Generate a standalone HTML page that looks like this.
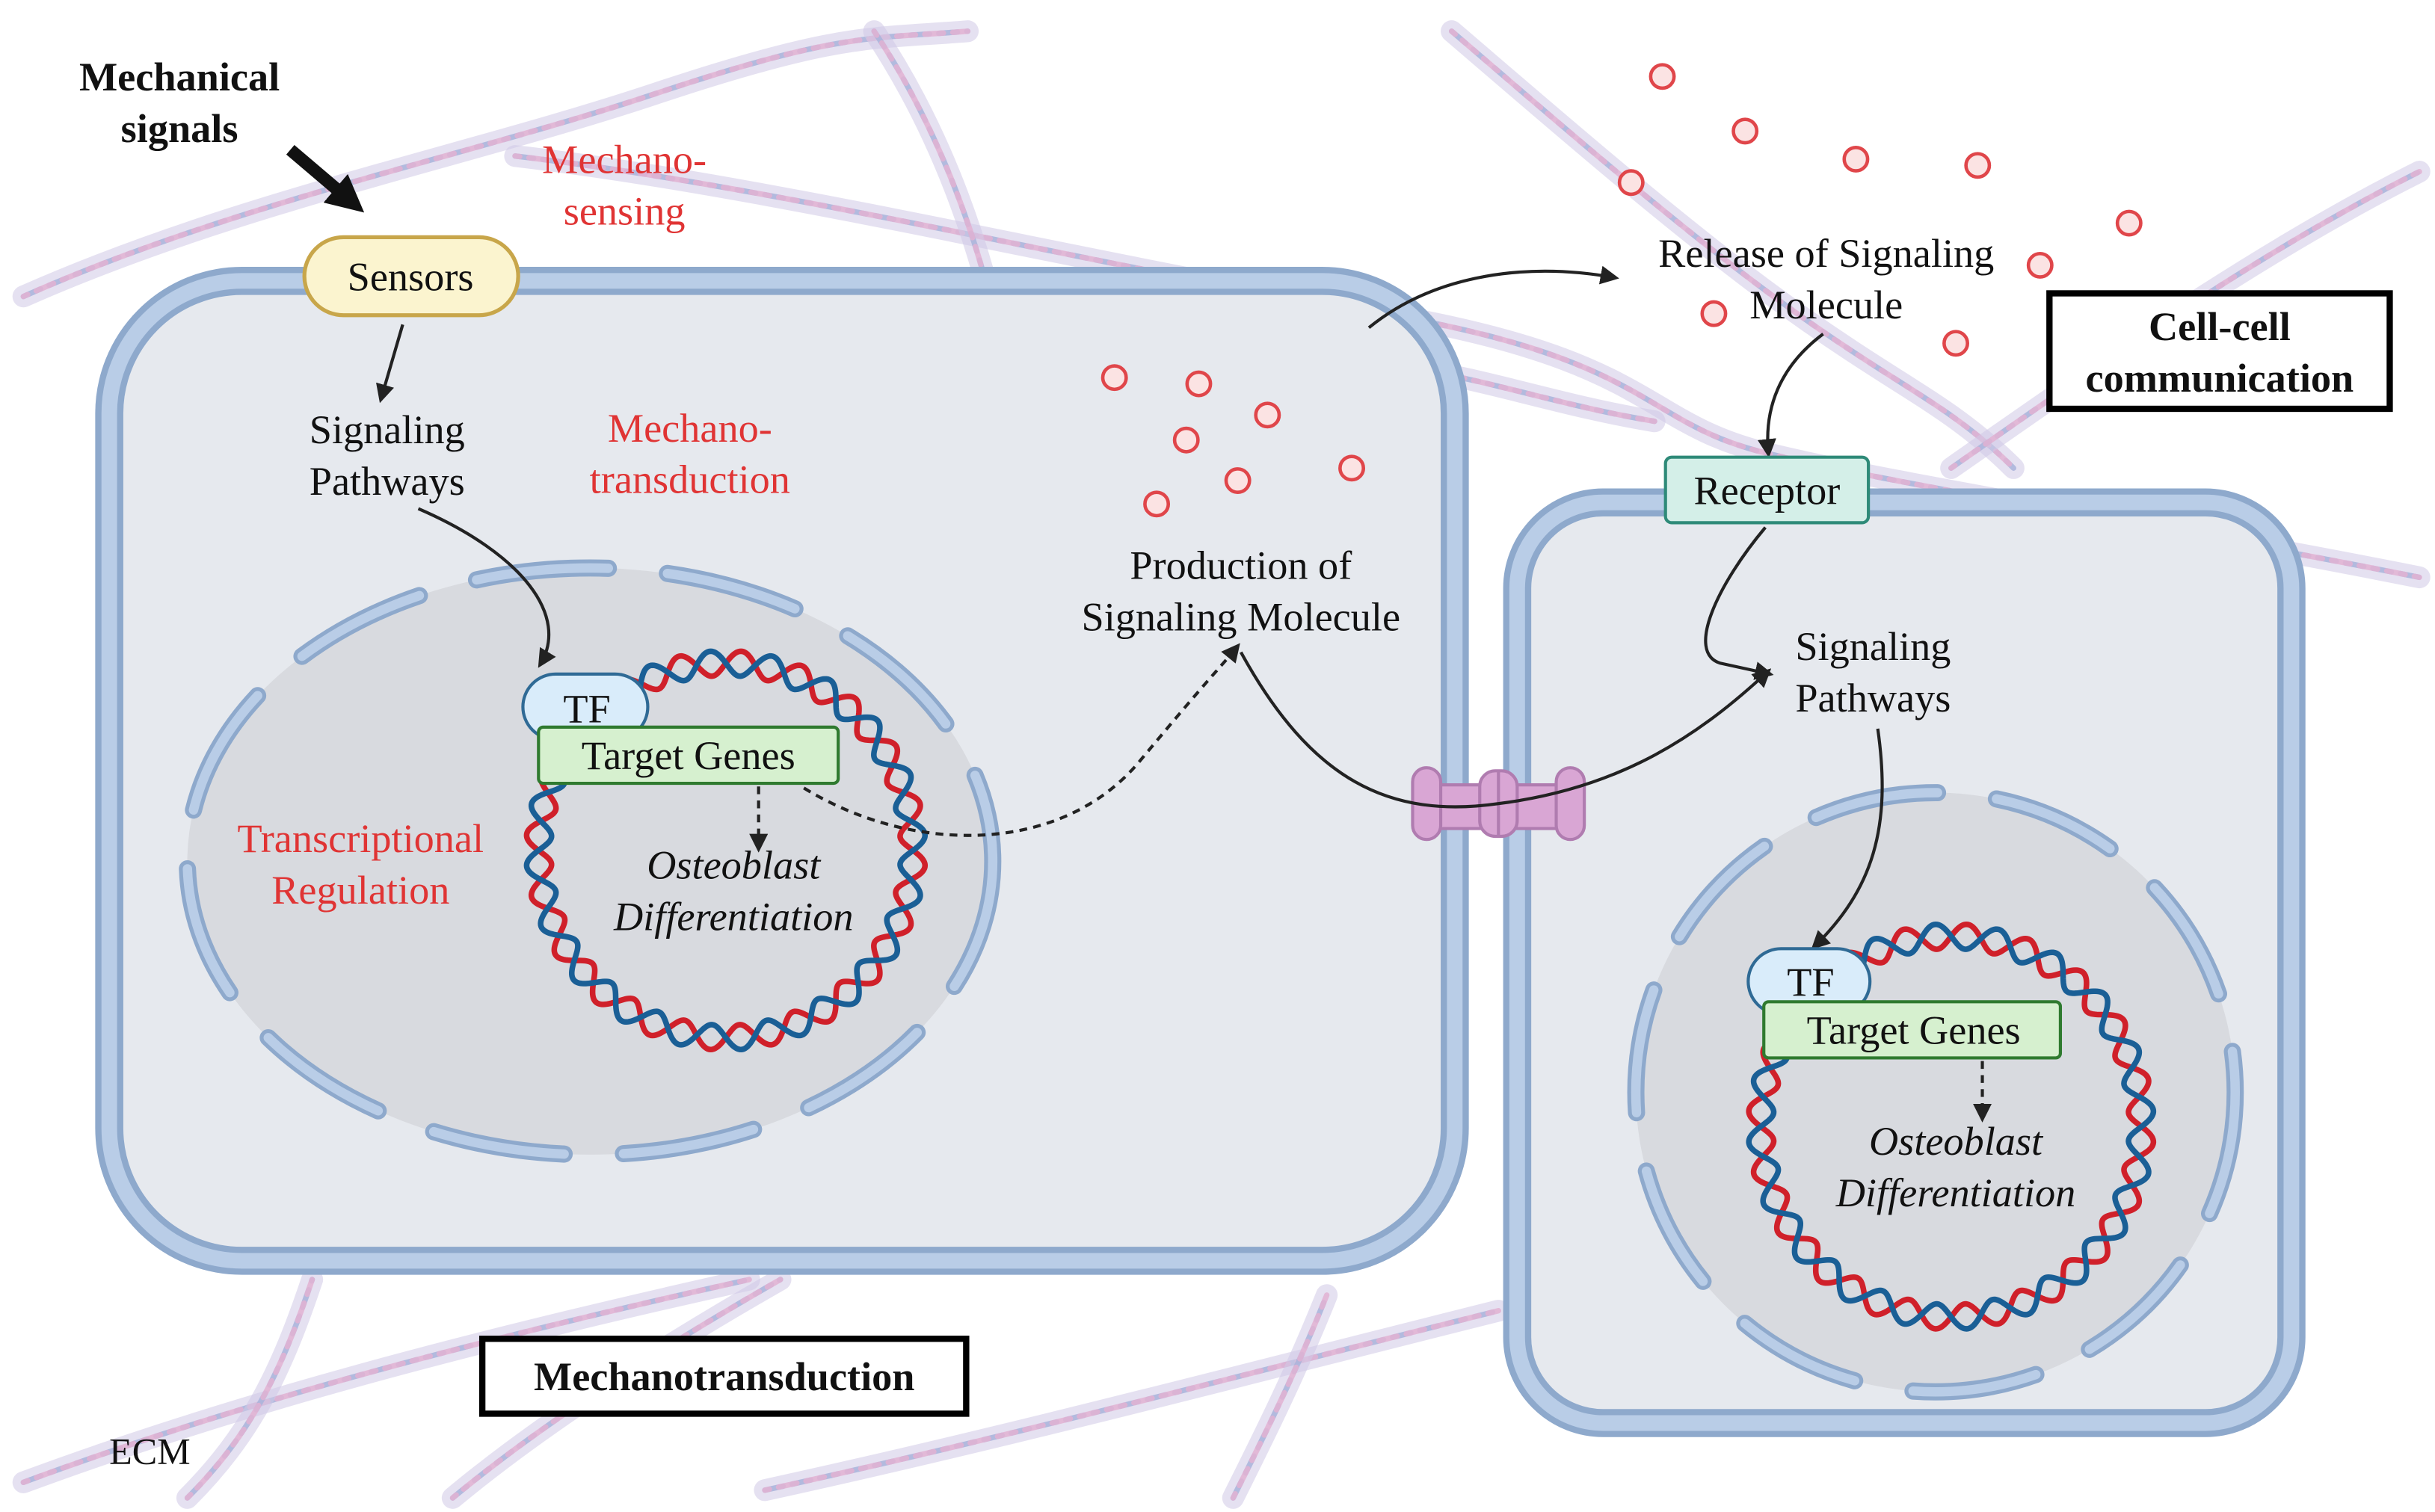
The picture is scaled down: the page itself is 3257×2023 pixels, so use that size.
<!DOCTYPE html>
<html><head><meta charset="utf-8"><style>
html,body{margin:0;padding:0;background:#fff;}
svg{display:block;}
text{font-family:"Liberation Serif",serif;}
</style></head><body>
<svg id="s" width="3257" height="2023" viewBox="0 0 1560 969" preserveAspectRatio="none" xmlns="http://www.w3.org/2000/svg">
<defs>
<marker id="ah" viewBox="0 0 10 10" refX="8" refY="5" markerWidth="6" markerHeight="6" orient="auto"><path d="M0,0 L10,5 L0,10 z" fill="#222"/></marker>
<marker id="ahb" viewBox="0 0 10 10" refX="6" refY="5" markerWidth="3" markerHeight="3" orient="auto"><path d="M0,0 L10,5 L0,10 z" fill="#111"/></marker>
</defs>
<rect width="1560" height="969" fill="#fff"/>
<g id="fibers" fill="none" stroke-linecap="round"></g>

<!-- Cell 1 -->
<rect x="70" y="180" width="862" height="628" rx="85" fill="#e6e9ee" stroke="#8ea9cc" stroke-width="18"/>
<rect x="70" y="180" width="862" height="628" rx="85" fill="none" stroke="#b9cde7" stroke-width="10"/>
<!-- Cell 2 -->
<rect x="972" y="322" width="496" height="590" rx="55" fill="#e6e9ee" stroke="#8ea9cc" stroke-width="18"/>
<rect x="972" y="322" width="496" height="590" rx="55" fill="none" stroke="#b9cde7" stroke-width="10"/>

<!-- Nuclei -->
<ellipse cx="378" cy="552" rx="258" ry="188" fill="#d8dadf"/>
<ellipse cx="378" cy="552" rx="258" ry="188" fill="none" stroke="#8ea9cc" stroke-width="11" stroke-dasharray="85 38" stroke-linecap="round"/>
<ellipse cx="378" cy="552" rx="258" ry="188" fill="none" stroke="#b9cde7" stroke-width="6" stroke-dasharray="85 38" stroke-linecap="round"/>
<ellipse cx="1240" cy="700" rx="192" ry="192" fill="#d8dadf"/>
<ellipse cx="1240" cy="700" rx="192" ry="192" fill="none" stroke="#8ea9cc" stroke-width="11" stroke-dasharray="80 38" stroke-linecap="round"/>
<ellipse cx="1240" cy="700" rx="192" ry="192" fill="none" stroke="#b9cde7" stroke-width="6" stroke-dasharray="80 38" stroke-linecap="round"/>

<g id="dna"></g>

<!-- gap junction -->
<g fill="#d9a6d4" stroke="#b07cb0" stroke-width="2">
<rect x="910" y="503" width="100" height="28" rx="5"/>
<rect x="905" y="492" width="18" height="46" rx="9"/>
<rect x="997" y="492" width="18" height="46" rx="9"/>
<rect x="948" y="494" width="24" height="42" rx="10"/>
</g>
<line x1="960" y1="494" x2="960" y2="536" stroke="#b07cb0" stroke-width="2"/>

<!-- molecules -->
<g id="mol" fill="#fbe3e3" stroke="#e0464a" stroke-width="2.2"></g>

<!-- arrows -->
<g fill="none" stroke="#222" stroke-width="2">
<path d="M258,208 L244,256" marker-end="url(#ah)"/>
<path d="M268,326 C335,355 365,395 346,426" marker-end="url(#ah)"/>
<path d="M486,504 L486,544" stroke-dasharray="5 4" marker-end="url(#ah)"/>
<path d="M515,505 C585,548 680,548 730,488 S780,430 793,414" stroke-dasharray="5 4" marker-end="url(#ah)"/>
<path d="M795,418 C840,500 890,525 960,515 C1040,505 1090,470 1133,430" marker-end="url(#ah)"/>
<path d="M877,210 C920,175 980,168 1035,178" marker-end="url(#ah)"/>
<path d="M1168,214 C1140,235 1130,262 1133,291" marker-end="url(#ah)"/>
<path d="M1131,338 C1100,375 1080,418 1102,425 L1134,432" marker-end="url(#ah)"/>
<path d="M1203,467 C1212,530 1200,570 1162,607" marker-end="url(#ah)"/>
<path d="M1270,680 L1270,717" stroke-dasharray="5 4" marker-end="url(#ah)"/>
</g>
<path d="M186,96 L226,130" stroke="#111" stroke-width="8" marker-end="url(#ahb)"/>

<!-- boxes -->
<rect x="195" y="152" width="137" height="50" rx="25" fill="#fbf4cf" stroke="#c8a64a" stroke-width="2.5"/>
<rect x="335" y="432" width="80" height="42" rx="21" fill="#d9ecfa" stroke="#2f6a95" stroke-width="2"/>
<rect x="345" y="466" width="192" height="36" rx="3" fill="#d6f0cf" stroke="#2f7a2f" stroke-width="2"/>
<rect x="1120" y="608" width="78" height="42" rx="21" fill="#d9ecfa" stroke="#2f6a95" stroke-width="2"/>
<rect x="1130" y="642" width="190" height="36" rx="3" fill="#d6f0cf" stroke="#2f7a2f" stroke-width="2"/>
<rect x="1067" y="293" width="130" height="42" rx="4" fill="#d4efe8" stroke="#2e8a78" stroke-width="2"/>
<rect x="1313" y="188" width="218" height="74" fill="#fff" stroke="#000" stroke-width="4"/>
<rect x="309" y="858" width="310" height="48" fill="#fff" stroke="#000" stroke-width="4"/>

<!-- text -->
<g font-size="26" text-anchor="middle" fill="#111">
<text x="115" y="58" font-weight="bold">Mechanical</text>
<text x="115" y="91" font-weight="bold">signals</text>
<text x="263" y="186">Sensors</text>
<text x="248" y="284">Signaling</text>
<text x="248" y="317">Pathways</text>
<text x="376" y="463">TF</text>
<text x="441" y="493">Target Genes</text>
<text x="470" y="563" font-style="italic">Osteoblast</text>
<text x="470" y="596" font-style="italic">Differentiation</text>
<text x="795" y="371">Production of</text>
<text x="795" y="404">Signaling Molecule</text>
<text x="1170" y="171">Release of Signaling</text>
<text x="1170" y="204">Molecule</text>
<text x="1422" y="218" font-weight="bold">Cell-cell</text>
<text x="1422" y="251" font-weight="bold">communication</text>
<text x="1132" y="323">Receptor</text>
<text x="1200" y="423">Signaling</text>
<text x="1200" y="456">Pathways</text>
<text x="1160" y="638">TF</text>
<text x="1226" y="669">Target Genes</text>
<text x="1253" y="740" font-style="italic">Osteoblast</text>
<text x="1253" y="773" font-style="italic">Differentiation</text>
<text x="464" y="891" font-weight="bold">Mechanotransduction</text>
<text x="96" y="938" font-size="24">ECM</text>
</g>
<g font-size="26" text-anchor="middle" fill="#e03434">
<text x="400" y="111">Mechano-</text>
<text x="400" y="144">sensing</text>
<text x="442" y="283">Mechano-</text>
<text x="442" y="316">transduction</text>
<text x="231" y="546">Transcriptional</text>
<text x="231" y="579">Regulation</text>
</g>
<script>
(function(){
var NS="http://www.w3.org/2000/svg";
function mk(p,tag,at){var e=document.createElementNS(NS,tag);for(var k in at)e.setAttribute(k,at[k]);p.appendChild(e);return e;}
var dna=document.getElementById('dna');
function ring(cx,cy,R,n){
 [["#d0202a",1],["#1a5f96",-1]].forEach(function(c){
  var d="";for(var i=0;i<=900;i++){var t=i/900*2*Math.PI;var r=R+c[1]*8*Math.sin(n*t);d+=(i?"L":"M")+(cx+r*Math.cos(t)).toFixed(2)+","+(cy+r*Math.sin(t)).toFixed(2);}
  mk(dna,'path',{d:d,fill:"none",stroke:c[0],"stroke-width":3.6});
 });
}
ring(465,545,120,20);ring(1250,722,122,20);
var mol=document.getElementById('mol');
[[714,242],[768,246],[812,266],[760,282],[793,308],[741,323],[866,300],[1065,49],[1118,84],[1189,102],[1267,106],[1045,117],[1364,143],[1307,170],[1098,201],[1253,220]].forEach(function(p){mk(mol,'circle',{cx:p[0],cy:p[1],r:7.5});});
var fb=document.getElementById('fibers');
var lines=[
 "M15,190 C150,130 300,100 420,60 S560,25 620,20",
 "M330,100 C500,120 700,170 880,200 S1050,270 1130,290 S1400,340 1550,370",
 "M930,20 C1000,80 1080,150 1150,200 S1250,260 1290,300",
 "M1250,300 C1350,230 1450,160 1550,110",
 "M560,20 C600,80 620,140 630,175",
 "M15,950 C150,900 300,860 480,820",
 "M290,960 C350,910 430,860 500,820",
 "M490,955 C650,920 800,880 960,840",
 "M790,960 C810,920 830,880 850,830",
 "M120,960 C160,920 180,880 200,820",
 "M900,235 C960,245 1000,260 1060,270"
];
lines.forEach(function(d){
 mk(fb,'path',{d:d,stroke:"#cfc8e6",'stroke-width':14,opacity:0.55});
 mk(fb,'path',{d:d,stroke:"#a9b3db",'stroke-width':3.5,'stroke-dasharray':"12 6",opacity:0.85});
 mk(fb,'path',{d:d,stroke:"#e2b2d2",'stroke-width':3.5,'stroke-dasharray':"12 6",'stroke-dashoffset':9,opacity:0.85});
});
})();
</script>
</svg>
</body></html>
